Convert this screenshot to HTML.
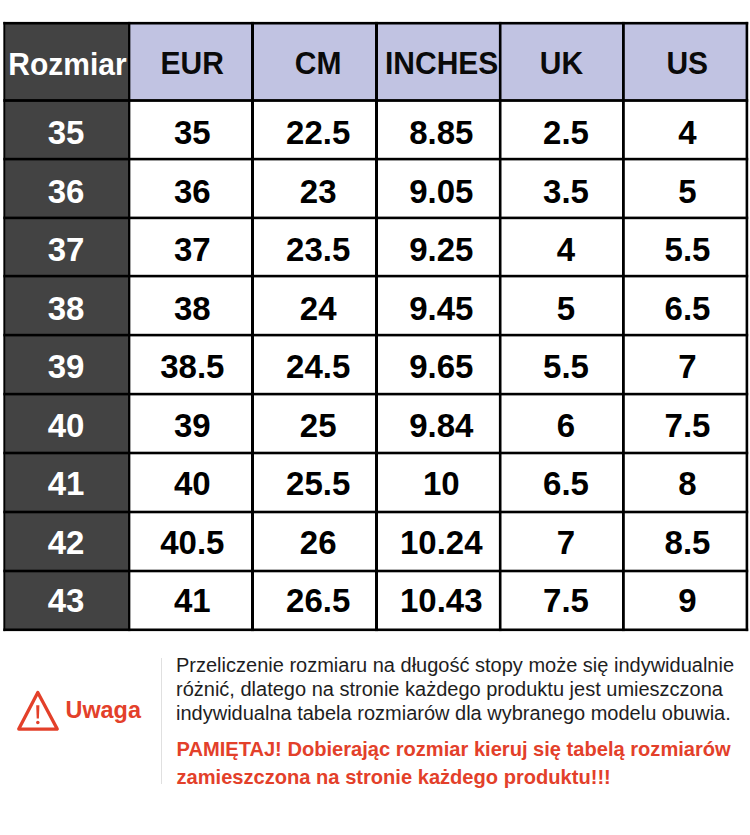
<!DOCTYPE html>
<html><head><meta charset="utf-8"><style>
html,body{margin:0;padding:0;background:#fff;width:750px;height:835px;overflow:hidden}
body{position:relative;font-family:"Liberation Sans",sans-serif}
div{position:absolute}
.t{width:300px;text-align:center;line-height:1;white-space:nowrap}
.p{left:176px;white-space:nowrap;font-size:20px}
</style></head><body>
<svg style="position:absolute;left:0;top:0" width="750" height="640" shape-rendering="geometricPrecision"><rect x="4.3" y="23.2" width="124.89999999999999" height="606.5999999999999" fill="#434343"/><rect x="129.2" y="23.2" width="617.7" height="77.3" fill="#c1c3e2"/><rect x="3.35" y="21.90" width="744.85" height="2.6" fill="#000"/><rect x="3.35" y="99.10" width="744.85" height="2.8" fill="#000"/><rect x="3.35" y="157.80" width="744.85" height="2.6" fill="#000"/><rect x="3.35" y="216.60" width="744.85" height="2.6" fill="#000"/><rect x="3.35" y="274.80" width="744.85" height="2.6" fill="#000"/><rect x="3.35" y="333.80" width="744.85" height="2.6" fill="#000"/><rect x="3.35" y="392.80" width="744.85" height="2.6" fill="#000"/><rect x="3.35" y="451.70" width="744.85" height="2.6" fill="#000"/><rect x="3.35" y="510.70" width="744.85" height="2.6" fill="#000"/><rect x="3.35" y="569.70" width="744.85" height="2.6" fill="#000"/><rect x="3.35" y="628.50" width="744.85" height="2.6" fill="#000"/><rect x="3.35" y="21.90" width="1.9" height="609.20" fill="#000"/><rect x="128.05" y="21.90" width="2.3" height="609.20" fill="#000"/><rect x="251.00" y="21.90" width="3.0" height="609.20" fill="#000"/><rect x="375.00" y="21.90" width="3.0" height="609.20" fill="#000"/><rect x="498.90" y="21.90" width="2.6" height="609.20" fill="#000"/><rect x="622.00" y="21.90" width="2.8" height="609.20" fill="#000"/><rect x="745.60" y="21.90" width="2.6" height="609.20" fill="#000"/></svg>
<div class="t" style="left:-82.5px;top:49.599999999999994px;font-size:30px;color:#fff;font-weight:bold;transform:scaleY(1.04);transform-origin:50% 15px">Rozmiar</div>
<div class="t" style="left:42.19999999999999px;top:48.8px;font-size:30px;color:#0a0a0a;font-weight:bold;transform:scaleY(1.04);transform-origin:50% 15px">EUR</div>
<div class="t" style="left:168.2px;top:48.8px;font-size:30px;color:#0a0a0a;font-weight:bold;transform:scaleY(1.04);transform-origin:50% 15px">CM</div>
<div class="t" style="left:291.7px;top:48.8px;font-size:30px;color:#0a0a0a;font-weight:bold;transform:scaleY(1.04);transform-origin:50% 15px">INCHES</div>
<div class="t" style="left:411.5px;top:48.8px;font-size:30px;color:#0a0a0a;font-weight:bold;transform:scaleY(1.04);transform-origin:50% 15px">UK</div>
<div class="t" style="left:537.3px;top:48.8px;font-size:30px;color:#0a0a0a;font-weight:bold;transform:scaleY(1.04);transform-origin:50% 15px">US</div>
<div class="t" style="left:-84px;top:116.1px;font-size:33px;color:#fff;font-weight:bold;">35</div>
<div class="t" style="left:42.30000000000001px;top:116.1px;font-size:33px;color:#000;font-weight:bold;">35</div>
<div class="t" style="left:168.2px;top:116.1px;font-size:33px;color:#000;font-weight:bold;">22.5</div>
<div class="t" style="left:291.3px;top:116.1px;font-size:33px;color:#000;font-weight:bold;">8.85</div>
<div class="t" style="left:416px;top:116.1px;font-size:33px;color:#000;font-weight:bold;">2.5</div>
<div class="t" style="left:537.5px;top:116.1px;font-size:33px;color:#000;font-weight:bold;">4</div>
<div class="t" style="left:-84px;top:174.6px;font-size:33px;color:#fff;font-weight:bold;">36</div>
<div class="t" style="left:42.30000000000001px;top:174.6px;font-size:33px;color:#000;font-weight:bold;">36</div>
<div class="t" style="left:168.2px;top:174.6px;font-size:33px;color:#000;font-weight:bold;">23</div>
<div class="t" style="left:291.3px;top:174.6px;font-size:33px;color:#000;font-weight:bold;">9.05</div>
<div class="t" style="left:416px;top:174.6px;font-size:33px;color:#000;font-weight:bold;">3.5</div>
<div class="t" style="left:537.5px;top:174.6px;font-size:33px;color:#000;font-weight:bold;">5</div>
<div class="t" style="left:-84px;top:233.2px;font-size:33px;color:#fff;font-weight:bold;">37</div>
<div class="t" style="left:42.30000000000001px;top:233.2px;font-size:33px;color:#000;font-weight:bold;">37</div>
<div class="t" style="left:168.2px;top:233.2px;font-size:33px;color:#000;font-weight:bold;">23.5</div>
<div class="t" style="left:291.3px;top:233.2px;font-size:33px;color:#000;font-weight:bold;">9.25</div>
<div class="t" style="left:416px;top:233.2px;font-size:33px;color:#000;font-weight:bold;">4</div>
<div class="t" style="left:537.5px;top:233.2px;font-size:33px;color:#000;font-weight:bold;">5.5</div>
<div class="t" style="left:-84px;top:291.7px;font-size:33px;color:#fff;font-weight:bold;">38</div>
<div class="t" style="left:42.30000000000001px;top:291.7px;font-size:33px;color:#000;font-weight:bold;">38</div>
<div class="t" style="left:168.2px;top:291.7px;font-size:33px;color:#000;font-weight:bold;">24</div>
<div class="t" style="left:291.3px;top:291.7px;font-size:33px;color:#000;font-weight:bold;">9.45</div>
<div class="t" style="left:416px;top:291.7px;font-size:33px;color:#000;font-weight:bold;">5</div>
<div class="t" style="left:537.5px;top:291.7px;font-size:33px;color:#000;font-weight:bold;">6.5</div>
<div class="t" style="left:-84px;top:350.3px;font-size:33px;color:#fff;font-weight:bold;">39</div>
<div class="t" style="left:42.30000000000001px;top:350.3px;font-size:33px;color:#000;font-weight:bold;">38.5</div>
<div class="t" style="left:168.2px;top:350.3px;font-size:33px;color:#000;font-weight:bold;">24.5</div>
<div class="t" style="left:291.3px;top:350.3px;font-size:33px;color:#000;font-weight:bold;">9.65</div>
<div class="t" style="left:416px;top:350.3px;font-size:33px;color:#000;font-weight:bold;">5.5</div>
<div class="t" style="left:537.5px;top:350.3px;font-size:33px;color:#000;font-weight:bold;">7</div>
<div class="t" style="left:-84px;top:408.8px;font-size:33px;color:#fff;font-weight:bold;">40</div>
<div class="t" style="left:42.30000000000001px;top:408.8px;font-size:33px;color:#000;font-weight:bold;">39</div>
<div class="t" style="left:168.2px;top:408.8px;font-size:33px;color:#000;font-weight:bold;">25</div>
<div class="t" style="left:291.3px;top:408.8px;font-size:33px;color:#000;font-weight:bold;">9.84</div>
<div class="t" style="left:416px;top:408.8px;font-size:33px;color:#000;font-weight:bold;">6</div>
<div class="t" style="left:537.5px;top:408.8px;font-size:33px;color:#000;font-weight:bold;">7.5</div>
<div class="t" style="left:-84px;top:467.3px;font-size:33px;color:#fff;font-weight:bold;">41</div>
<div class="t" style="left:42.30000000000001px;top:467.3px;font-size:33px;color:#000;font-weight:bold;">40</div>
<div class="t" style="left:168.2px;top:467.3px;font-size:33px;color:#000;font-weight:bold;">25.5</div>
<div class="t" style="left:291.3px;top:467.3px;font-size:33px;color:#000;font-weight:bold;">10</div>
<div class="t" style="left:416px;top:467.3px;font-size:33px;color:#000;font-weight:bold;">6.5</div>
<div class="t" style="left:537.5px;top:467.3px;font-size:33px;color:#000;font-weight:bold;">8</div>
<div class="t" style="left:-84px;top:525.9px;font-size:33px;color:#fff;font-weight:bold;">42</div>
<div class="t" style="left:42.30000000000001px;top:525.9px;font-size:33px;color:#000;font-weight:bold;">40.5</div>
<div class="t" style="left:168.2px;top:525.9px;font-size:33px;color:#000;font-weight:bold;">26</div>
<div class="t" style="left:291.3px;top:525.9px;font-size:33px;color:#000;font-weight:bold;">10.24</div>
<div class="t" style="left:416px;top:525.9px;font-size:33px;color:#000;font-weight:bold;">7</div>
<div class="t" style="left:537.5px;top:525.9px;font-size:33px;color:#000;font-weight:bold;">8.5</div>
<div class="t" style="left:-84px;top:584.4px;font-size:33px;color:#fff;font-weight:bold;">43</div>
<div class="t" style="left:42.30000000000001px;top:584.4px;font-size:33px;color:#000;font-weight:bold;">41</div>
<div class="t" style="left:168.2px;top:584.4px;font-size:33px;color:#000;font-weight:bold;">26.5</div>
<div class="t" style="left:291.3px;top:584.4px;font-size:33px;color:#000;font-weight:bold;">10.43</div>
<div class="t" style="left:416px;top:584.4px;font-size:33px;color:#000;font-weight:bold;">7.5</div>
<div class="t" style="left:537.5px;top:584.4px;font-size:33px;color:#000;font-weight:bold;">9</div>
<svg style="position:absolute;left:0;top:0" width="750" height="835">
<line x1="161.5" y1="658" x2="161.5" y2="784" stroke="#e0e0e0" stroke-width="1"/>
<path d="M37.8 692.4 L57.25 729.05 L18.75 729.05 Z" fill="none" stroke="#e3402a" stroke-width="3.3" stroke-linejoin="round"/>
<path d="M36.2 705.3 L39.4 705.3 L38.9 718.6 L36.7 718.6 Z" fill="#e3402a"/>
<circle cx="37.8" cy="722.5" r="1.75" fill="#e3402a"/>
</svg>
<div style="left:65.5px;top:698.8px;font-size:23.4px;font-weight:bold;color:#e3402a;line-height:1">Uwaga</div>
<div class="p" style="top:653.3px;line-height:24px;color:#1e1e1e">Przeliczenie rozmiaru na długość stopy może się indywidualnie<br>różnić, dlatego na stronie każdego produktu jest umieszczona<br>indywidualna tabela rozmiarów dla wybranego modelu obuwia.</div>
<div class="p" style="left:176.5px;top:735px;line-height:28.3px;font-size:20.1px;color:#e3402a;font-weight:bold">PAMIĘTAJ! Dobierając rozmiar kieruj się tabelą rozmiarów<br>zamieszczona na stronie każdego produktu!!!</div>
</body></html>
